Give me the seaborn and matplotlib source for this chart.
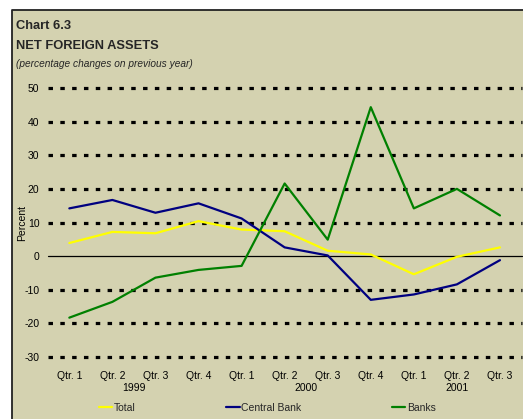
import numpy as np
import pandas as pd
import matplotlib
matplotlib.use("Agg")
import matplotlib.pyplot as plt
import matplotlib.transforms as mtransforms
from matplotlib.patches import Rectangle
from matplotlib.lines import Line2D
import seaborn as sns

# -----------------------------
# Data
# -----------------------------
quarters = ["Qtr. 1", "Qtr. 2", "Qtr. 3", "Qtr. 4",
            "Qtr. 1", "Qtr. 2", "Qtr. 3", "Qtr. 4",
            "Qtr. 1", "Qtr. 2", "Qtr. 3"]
years = ["1999", "1999", "1999", "1999",
         "2000", "2000", "2000", "2000",
         "2001", "2001", "2001"]

total = [3.9, 7.2, 6.8, 10.4, 7.9, 7.4, 1.6, 0.5, -5.4, -0.2, 2.6]
central_bank = [14.2, 16.7, 12.9, 15.7, 11.2, 2.6, 0.2, -13.0, -11.4, -8.4, -1.2]
banks = [-18.3, -13.6, -6.4, -4.1, -2.9, 21.6, 4.9, 44.3, 14.2, 20.0, 12.1]

series_names = ["Total", "Central Bank", "Banks"]
series_colors = ["#FFFF00", "#000080", "#008000"]
y_ticks = [-30, -20, -10, 0, 10, 20, 30, 40, 50]

BG = "#D4D2B0"

# long form table for seaborn
idx = list(range(len(quarters)))
df = pd.DataFrame({
    "pos": idx * 3,
    "value": total + central_bank + banks,
    "series": ["Total"] * len(idx) + ["Central Bank"] * len(idx) + ["Banks"] * len(idx),
})

# -----------------------------
# Figure
# -----------------------------
sns.set_theme(style="white")
plt.rcParams["font.family"] = ["Liberation Sans", "DejaVu Sans"]

fig = plt.figure(figsize=(5.23, 4.19), dpi=100, facecolor="white")

# beige panel, border only on top and left (rest runs off the picture)
x0 = 11.5 / 523
y1 = 1 - 10.5 / 419
fig.patches.append(Rectangle((x0, 0), 1 - x0, y1, transform=fig.transFigure,
                             facecolor=BG, edgecolor="none", zorder=-10))
fig.lines.append(Line2D([x0, x0, 1], [0, y1, y1], transform=fig.transFigure,
                        color="#222222", lw=1.3, zorder=-9))

ax = fig.add_axes([47.8 / 523, 1 - 357 / 419, 473.7 / 523, 269 / 419])
ax.set_facecolor("none")

# dotted grid (zero gets a plain solid line)
for v in y_ticks:
    if v == 0:
        ax.axhline(v, color="black", lw=0.9, zorder=1, clip_on=False)
    else:
        ax.axhline(v, color="black", lw=2.3, linestyle=(0, (1.4, 2.3)),
                   zorder=1, clip_on=False)

sns.lineplot(
    data=df, x="pos", y="value", hue="series",
    hue_order=series_names, palette=series_colors,
    linewidth=1.6, ax=ax, zorder=3
)

ax.set_xlim(-0.5, len(quarters) - 0.5)
ax.set_ylim(-30, 50)
ax.set_yticks(y_ticks)
ax.set_yticklabels([str(v) for v in y_ticks])
ax.set_xticks(idx)
ax.set_xticklabels(quarters)
ax.tick_params(axis="y", length=0, pad=6, labelsize=7.5, colors="black")
ax.tick_params(axis="x", length=0, pad=10, labelsize=7.5, colors="black")

for s in ax.spines.values():
    s.set_visible(False)

ax.set_xlabel("")
ax.set_ylabel("Percent", fontsize=7.5, color="black")
ax.yaxis.set_label_coords(-0.043, 0.5)

# year labels centred under each group of quarters
trans = mtransforms.blended_transform_factory(ax.transData, ax.transAxes)
for yr in dict.fromkeys(years):
    pos = [i for i, y in enumerate(years) if y == yr]
    ax.text(np.mean(pos), -0.115, yr, transform=trans,
            ha="center", va="center", fontsize=7.5, color="black")

# legend along the bottom
handles, labels = ax.get_legend_handles_labels()
ax.get_legend().remove()
fig.legend(handles, labels, loc="center", bbox_to_anchor=(0.511, 0.026),
           ncol=3, frameon=False, fontsize=7.5, handlelength=1.3,
           handletextpad=0.15, columnspacing=8.7)

# titles
fig.text(16 / 523, 1 - 26 / 419, "Chart 6.3", fontsize=9.3, fontweight="bold",
         ha="left", va="center")
fig.text(16 / 523, 1 - 46 / 419, "NET FOREIGN ASSETS", fontsize=9.3,
         fontweight="bold", ha="left", va="center")
fig.text(16 / 523, 1 - 64 / 419, "(percentage changes on previous year)",
         fontsize=7.3, style="italic", ha="left", va="center")

fig.savefig("out.png", dpi=100, facecolor="white")
